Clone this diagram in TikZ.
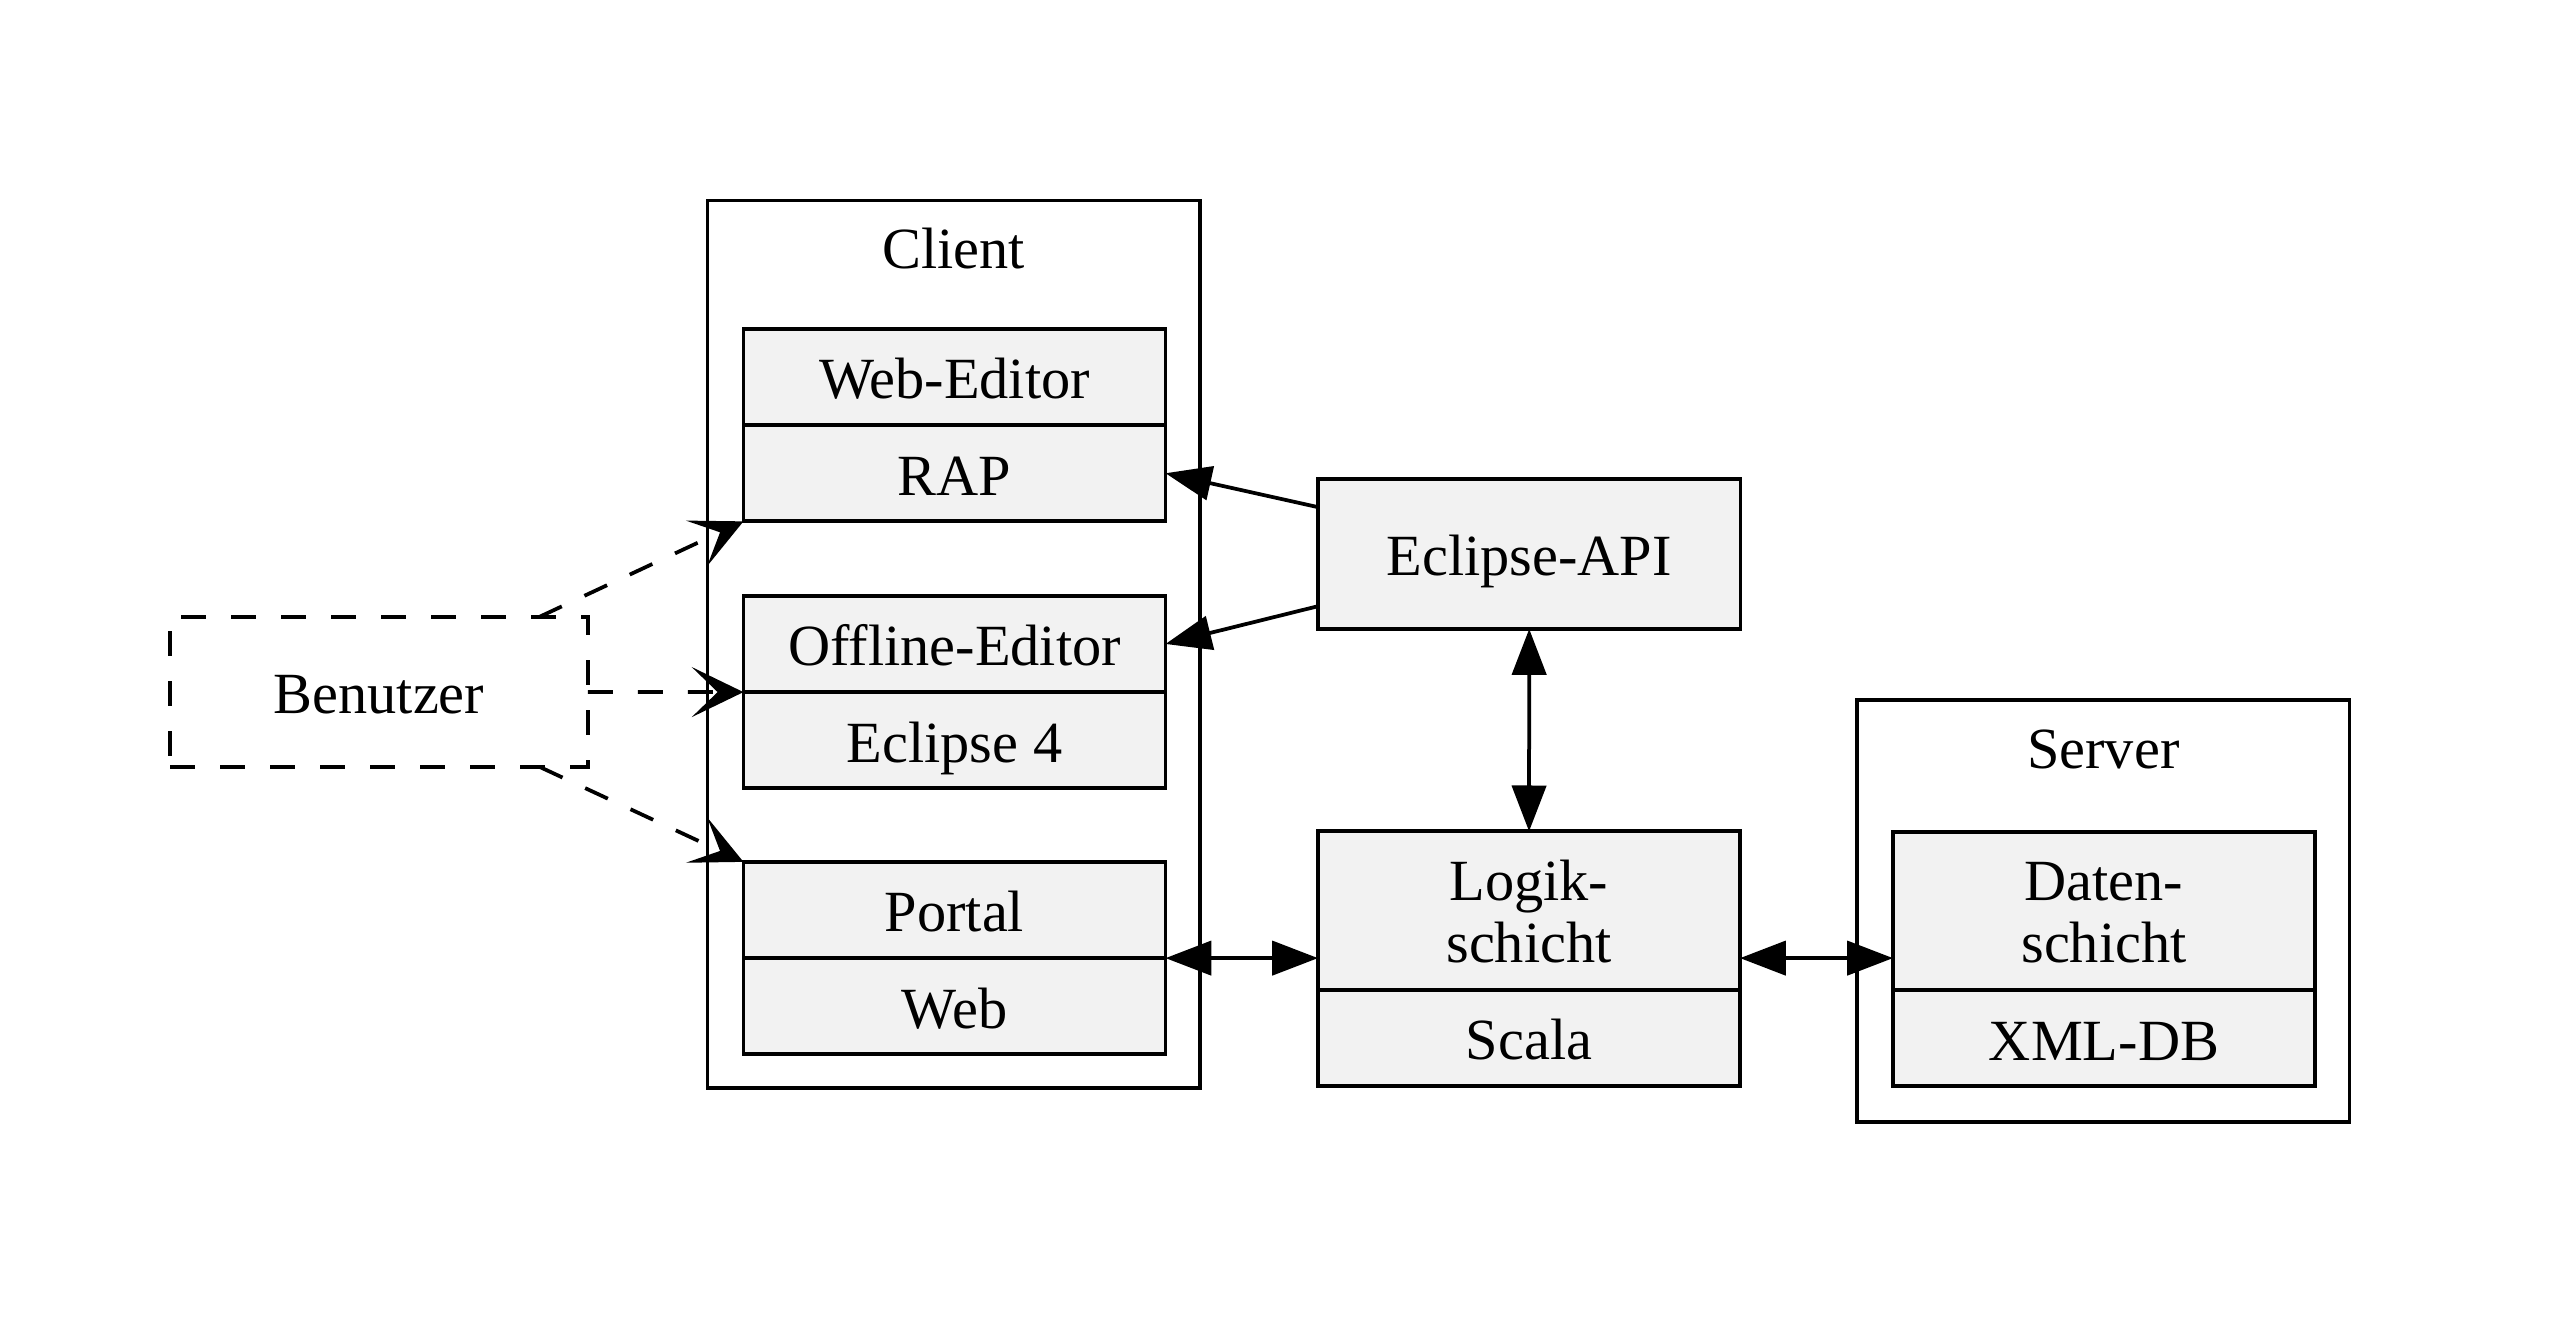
\documentclass[tikz,border=0pt]{standalone}
\usepackage{fontspec}
\setmainfont{Liberation Serif}
\usetikzlibrary{positioning,arrows.meta}
\definecolor{fieldgray}{RGB}{242,242,242}
\begin{document}
\begin{tikzpicture}[x=0.24pt,y=-0.24pt,line width=0.9pt,
  font=\fontsize{14}{15}\selectfont,
  box/.style={draw,rectangle,inner sep=0pt,outer sep=0pt},
  field/.style={box,fill=fieldgray,minimum width=101.3pt,minimum height=23.1pt,text height=10.5pt,text depth=0pt},
  bigfield/.style={field,minimum height=38pt,text height=25pt,align=center},
  cluster/.style={box,minimum width=118.2pt},
  lbl/.style={anchor=base,inner sep=0pt},
  usrline/.style={dash pattern=on 6pt off 6pt,-{Stealth[length=12.4pt,width=12pt,inset=6.2pt]}},
  apiline/.style={-{Triangle[length=11pt,width=8.2pt]}},
  duplex/.style={{Triangle[length=11pt,width=8.2pt]}-{Triangle[length=11pt,width=8.2pt]}}]
\useasboundingbox (0,0) rectangle (2550,1321);
% Client
\node[cluster,minimum height=213pt] (client) at (953.75,644.35) {};
\node[lbl] (clientlbl) at ([yshift=-16.4pt]client.north) {Client};
\node[field] (webed) at (954.5,377) {Web-Editor};
\node[field,below=0pt of webed] (rap) {RAP};
\node[field] (offline) at (954.5,644) {Offline-Editor};
\node[field,below=0pt of offline] (eclipse) {Eclipse 4};
\node[field] (portal) at (954.5,910) {Portal};
\node[field,below=0pt of portal] (web) {Web};
% Mitte
\node[field,minimum width=101.4pt,minimum height=36pt] (api) at (1529.25,554) {Eclipse-API};
\node[bigfield] (logik) at (1529,910.5) {Logik-\\schicht};
\node[field,below=0pt of logik] (scala) {Scala};
% Server
\node[cluster,minimum height=101.2pt] (server) at (2103.3,910.85) {};
\node[lbl] (serverlbl) at ([yshift=-16.4pt]server.north) {Server};
\node[bigfield] (daten) at (2104,910.9) {Daten-\\schicht};
\node[field,below=0pt of daten] (xmldb) {XML-DB};
% Benutzer
\node[box,dash pattern=on 6pt off 6pt,minimum width=100.3pt,minimum height=36pt,text height=10.5pt,text depth=0pt] (user) at (379,692) {Benutzer};
\draw[usrline] (user) -- (rap.south west);
\draw[usrline] (user) -- (offline.south west);
\draw[usrline] (user) -- (portal.north west);
\draw[apiline] (api) -- (rap.east);
\draw[apiline] (api) -- (offline.east);
\draw[duplex] (api) -- (logik);
\draw[duplex] (portal.south east) -- (portal.south east -| logik.west);
\draw[duplex] (logik.east |- portal.south east) -- (daten.west |- portal.south east);
\end{tikzpicture}
\end{document}
